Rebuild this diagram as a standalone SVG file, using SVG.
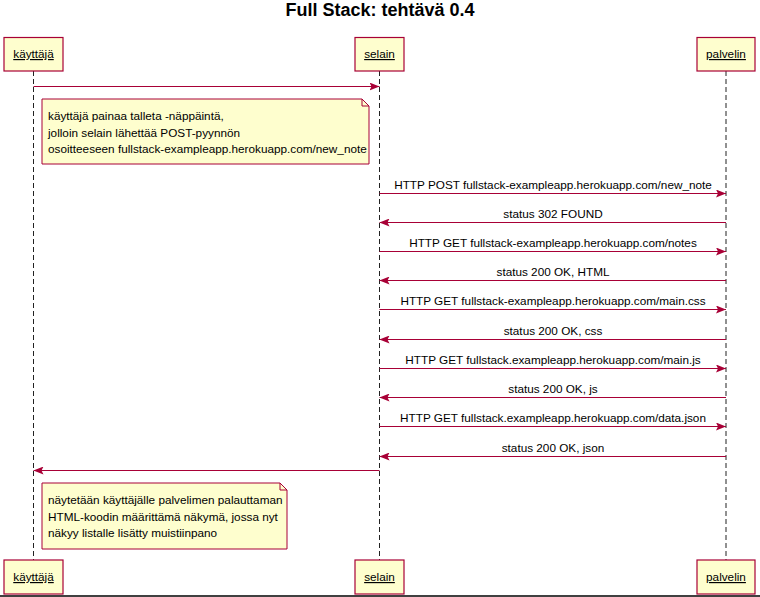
<svg xmlns="http://www.w3.org/2000/svg" width="760" height="597" viewBox="0 0 760 597">
<style>
  text { font-family: "Liberation Sans", Arial, sans-serif; font-size: 11.75px; fill: #000; }
  .title { font-size: 18px; font-weight: bold; }
  .pbox { fill: #FEFECE; stroke: #A80036; stroke-width: 1.2; }
  .pname { text-decoration: underline; }
  .life { stroke: #222; stroke-width: 1; stroke-dasharray: 5,3; fill: none; }
  .msg { stroke: #A80036; stroke-width: 1; fill: none; marker-end: url(#ah); }
  .note { fill: #FEFECE; stroke: #A80036; stroke-width: 1; }
</style>
<defs>
  <marker id="ah" viewBox="0 0 10 8" refX="10" refY="4" markerWidth="10" markerHeight="8" markerUnits="userSpaceOnUse" orient="auto">
    <path d="M0,0 L10,4 L0,8 L2,4 Z" fill="#A80036"/>
  </marker>
</defs>
<rect x="0" y="0" width="760" height="597" fill="#fff"/>
<text class="title" x="380" y="16" text-anchor="middle">Full Stack: tehtävä 0.4</text>

<g id="lifelines">
  <line class="life" x1="33.5" y1="71" x2="33.5" y2="560"/>
  <line class="life" x1="379.5" y1="71" x2="379.5" y2="560"/>
  <line class="life" x1="726" y1="71" x2="726" y2="560"/>
</g>

<g id="kayttaja">
  <rect class="pbox" x="4" y="37.5" width="59" height="33.5"/>
  <text class="pname" x="33.5" y="58" text-anchor="middle">käyttäjä</text>
  <rect class="pbox" x="4" y="560" width="59" height="34"/>
  <text class="pname" x="33.5" y="581" text-anchor="middle">käyttäjä</text>
</g>
<g id="selain">
  <rect class="pbox" x="355" y="37.5" width="49" height="33.5"/>
  <text class="pname" x="379.5" y="58" text-anchor="middle">selain</text>
  <rect class="pbox" x="355" y="560" width="49" height="34"/>
  <text class="pname" x="379.5" y="581" text-anchor="middle">selain</text>
</g>
<g id="palvelin">
  <rect class="pbox" x="697" y="37.5" width="58" height="33.5"/>
  <text class="pname" x="726" y="58" text-anchor="middle">palvelin</text>
  <rect class="pbox" x="697" y="560" width="58" height="34"/>
  <text class="pname" x="726" y="581" text-anchor="middle">palvelin</text>
</g>

<g id="note1">
  <path class="note" d="M42,99 L362,99 L369,106 L369,164 L42,164 Z"/>
  <path d="M362,99 L362,106 L369,106" fill="none" stroke="#A80036" stroke-width="1"/>
  <text x="48" y="120">käyttäjä painaa talleta -näppäintä,</text>
  <text x="48" y="136.5">jolloin selain lähettää POST-pyynnön</text>
  <text x="48" y="153">osoitteeseen fullstack-exampleapp.herokuapp.com/new_note</text>
</g>

<g id="note2">
  <path class="note" d="M42,483 L280,483 L287,490 L287,549 L42,549 Z"/>
  <path d="M280,483 L280,490 L287,490" fill="none" stroke="#A80036" stroke-width="1"/>
  <text x="48" y="504">näytetään käyttäjälle palvelimen palauttaman</text>
  <text x="48" y="520.5">HTML-koodin määrittämä näkymä, jossa nyt</text>
  <text x="48" y="537">näkyy listalle lisätty muistiinpano</text>
</g>

<g id="connectors">
  <line class="msg" x1="33.5" y1="86.5" x2="379.5" y2="86.5"/>
  <line class="msg" x1="379.5" y1="193.5" x2="726" y2="193.5"/>
  <line class="msg" x1="726" y1="222.5" x2="379.5" y2="222.5"/>
  <line class="msg" x1="379.5" y1="251.5" x2="726" y2="251.5"/>
  <line class="msg" x1="726" y1="280.5" x2="379.5" y2="280.5"/>
  <line class="msg" x1="379.5" y1="309.5" x2="726" y2="309.5"/>
  <line class="msg" x1="726" y1="339.5" x2="379.5" y2="339.5"/>
  <line class="msg" x1="379.5" y1="368.5" x2="726" y2="368.5"/>
  <line class="msg" x1="726" y1="397.5" x2="379.5" y2="397.5"/>
  <line class="msg" x1="379.5" y1="426.5" x2="726" y2="426.5"/>
  <line class="msg" x1="726" y1="456.5" x2="379.5" y2="456.5"/>
  <line class="msg" x1="379.5" y1="470.5" x2="33.5" y2="470.5"/>
</g>

<g id="labels">
  <text x="553" y="189" text-anchor="middle">HTTP POST fullstack-exampleapp.herokuapp.com/new_note</text>
  <text x="553" y="218" text-anchor="middle">status 302 FOUND</text>
  <text x="553" y="247" text-anchor="middle">HTTP GET fullstack-exampleapp.herokuapp.com/notes</text>
  <text x="553" y="276" text-anchor="middle">status 200 OK, HTML</text>
  <text x="553" y="305" text-anchor="middle">HTTP GET fullstack-exampleapp.herokuapp.com/main.css</text>
  <text x="553" y="335" text-anchor="middle">status 200 OK, css</text>
  <text x="553" y="364" text-anchor="middle">HTTP GET fullstack.exampleapp.herokuapp.com/main.js</text>
  <text x="553" y="393" text-anchor="middle">status 200 OK, js</text>
  <text x="553" y="422" text-anchor="middle">HTTP GET fullstack.exampleapp.herokuapp.com/data.json</text>
  <text x="553" y="452" text-anchor="middle">status 200 OK, json</text>
</g>

<line x1="0" y1="596" x2="760" y2="596" stroke="#000" stroke-width="1.5"/>
</svg>
